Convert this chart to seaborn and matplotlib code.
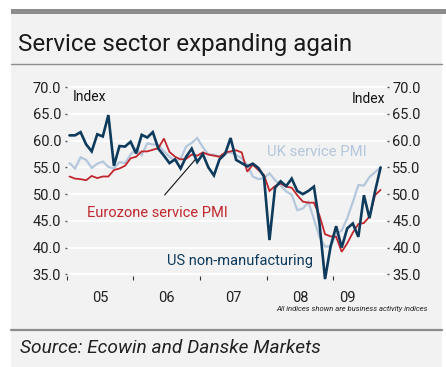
import numpy as np
import pandas as pd
import matplotlib
matplotlib.use("Agg")
import matplotlib.pyplot as plt
import seaborn as sns
from matplotlib.patches import Rectangle
from matplotlib.lines import Line2D

# ---------------- data (monthly, Jan 2005 .. Sep 2009) ----------------
months = pd.date_range("2005-01-01", "2009-09-01", freq="MS")
us_nonmfg = [61.0, 61.0, 61.6, 59.3, 58.0, 61.2, 60.8, 64.8, 55.3, 59.0,
             58.9, 59.8, 57.6, 61.1, 60.6, 61.6, 58.5, 57.2, 55.8, 56.5,
             54.8, 57.0, 58.5, 56.0, 57.5, 55.0, 53.5, 56.5, 57.5, 60.5,
             56.4, 55.8, 55.2, 55.7, 54.9, 53.3, 41.4, 51.2, 52.4, 51.5,
             52.9, 50.6, 50.0, 50.6, 51.4, 44.5, 34.1, 40.2, 44.0, 40.0,
             43.6, 44.5, 42.0, 49.8, 45.5, 50.5, 55.0]
ez_services = [53.3, 52.9, 52.8, 52.6, 53.4, 53.0, 53.3, 53.3, 54.5, 54.8,
               55.3, 56.7, 57.0, 58.0, 58.0, 58.3, 58.6, 60.4, 57.9, 57.0,
               56.5, 56.6, 57.4, 57.2, 57.8, 57.4, 57.2, 57.0, 57.8, 58.0,
               58.2, 57.8, 54.2, 55.5, 54.5, 53.6, 50.6, 51.5, 52.0, 51.4,
               51.2, 49.8, 48.6, 48.4, 48.4, 46.0, 42.5, 42.1, 42.0, 39.2,
               40.8, 42.8, 44.4, 44.6, 45.8, 49.8, 50.8]
uk_services = [55.8, 54.8, 56.9, 56.4, 54.9, 55.7, 56.1, 55.1, 54.8, 56.0,
               55.8, 57.4, 58.5, 57.3, 59.5, 59.3, 59.2, 58.0, 57.0, 56.3,
               56.6, 58.9, 59.6, 60.5, 58.8, 57.4, 57.4, 57.0, 57.6, 57.8,
               57.3, 56.7, 55.5, 53.3, 52.8, 53.0, 53.9, 52.6, 51.7, 50.5,
               49.9, 47.0, 47.3, 48.5, 45.3, 42.0, 40.2, 40.2, 42.5, 43.2,
               45.5, 48.5, 51.7, 51.6, 53.2, 54.1, 55.0]
year_labels = ["05", "06", "07", "08", "09"]
y_ticks = [35, 40, 45, 50, 55, 60, 65, 70]

title = "Service sector expanding again"
source = "Source: Ecowin and Danske Markets"
footnote = "All indices shown are business activity indices"

C_US = "#0e3a5c"
C_EZ = "#c1272d"
C_UK = "#b4c7dc"
BG = "#f2f2f2"

W, H = 446, 367
sns.set_theme(style="white")
plt.rcParams['font.family'] = ['Roboto', 'DejaVu Sans']

fig = plt.figure(figsize=(W / 100, H / 100), dpi=100)
fig.patch.set_facecolor("white")


def fx(px):
    return px / W


def fy(py):
    return 1 - py / H


# background panel and rules
fig.patches.append(Rectangle((fx(11), fy(367)), fx(442) - fx(11), fy(13) - fy(367),
                             transform=fig.transFigure, facecolor=BG, edgecolor="none", zorder=-3))
fig.patches.append(Rectangle((fx(11), fy(13.5)), fx(446) - fx(11), fy(9) - fy(13.5),
                             transform=fig.transFigure, facecolor="#8c8c8c", edgecolor="none", zorder=-2))
fig.lines.append(Line2D([fx(11), fx(442)], [fy(63.5), fy(63.5)], transform=fig.transFigure,
                        color="#8c8c8c", lw=1.0, zorder=-2))
fig.lines.append(Line2D([fx(11), fx(442)], [fy(330), fy(330)], transform=fig.transFigure,
                        color="#8c8c8c", lw=1.6, zorder=-2))

# axes: 70 at y=87.3px, 35 at y=274.3px ; x month 0 at 66.7px, 5.556 px / month
y_top_px, y_bot_px = 86.2, 276.4
ax = fig.add_axes([fx(66.7), fy(y_bot_px), 320 / W, (y_bot_px - y_top_px) / H])
ax.set_zorder(1)
ax.patch.set_alpha(0)
ax.set_xlim(0, 57.6)
ax.set_ylim(34.6, 70.2)

t = np.arange(len(months)) + 0.5
df = pd.DataFrame({"t": t, "US": us_nonmfg, "EZ": ez_services, "UK": uk_services})

sns.lineplot(data=df, x="t", y="UK", ax=ax, color=C_UK, lw=1.6, zorder=3)
sns.lineplot(data=df, x="t", y="EZ", ax=ax, color=C_EZ, lw=1.3, zorder=4)
sns.lineplot(data=df, x="t", y="US", ax=ax, color=C_US, lw=1.9, zorder=5)
for ln in ax.lines:
    ln.set_clip_on(False)
    ln.set_solid_joinstyle("miter")

ax.set_xlabel("")
ax.set_ylabel("")
for s in ax.spines.values():
    s.set_visible(False)

ax.set_yticks(y_ticks)
ax.set_yticklabels([f"{v:.1f}" for v in y_ticks])
ax.yaxis.grid(True, color="white", lw=1.3)
ax.xaxis.grid(False)
ax.set_axisbelow(True)
ax.tick_params(axis="y", left=True, right=True, labelleft=True, labelright=True,
               length=1.5, width=1.0, color="#555555", pad=2.5, labelsize=10.5,
               labelcolor="#222222")

ax.set_xticks([0, 12, 24, 36, 48])
ax.set_xticklabels([])
ax.set_xticks([6, 18, 30, 42, 50.6], minor=True)
ax.set_xticklabels(year_labels, minor=True)
ax.tick_params(axis="x", which="major", bottom=True, length=3, width=0.8, color="#333333",
               direction="out")
ax.tick_params(axis="x", which="minor", bottom=True, length=0, pad=10.5, labelsize=10.5,
               labelcolor="#222222")

# annotations
ax.text(1.1, 68.2, "Index", fontsize=10, color="#111111", va="center", ha="left")
ax.text(57.3, 67.8, "Index", fontsize=10, color="#111111", va="center", ha="right")
ax.text(36.0, 57.9, "UK service PMI", fontsize=10.7, color=C_UK, va="center", ha="left")
ax.text(3.6, 46.45, "Eurozone service PMI", fontsize=10.5, color=C_EZ, va="center", ha="left")
ax.text(18.0, 37.5, "US non-manufacturing", fontsize=10.5, color=C_US, va="center", ha="left")
ax.annotate("", xy=(23.5, 56.9), xytext=(17.3, 49.45),
            arrowprops=dict(arrowstyle="-", color="#111111", lw=0.8))

fig.text(fx(18), fy(45), title, fontsize=17.4, color="#1a1a1a", va="center", ha="left")
fig.text(fx(428), fy(308.5), footnote, fontsize=5.5, color="#222222", va="center", ha="right",
         style="italic")
fig.text(fx(20), fy(348), source, fontsize=13.8, color="#222222", va="center", ha="left",
         style="italic")

fig.savefig("out.png", dpi=100, facecolor=fig.get_facecolor())
